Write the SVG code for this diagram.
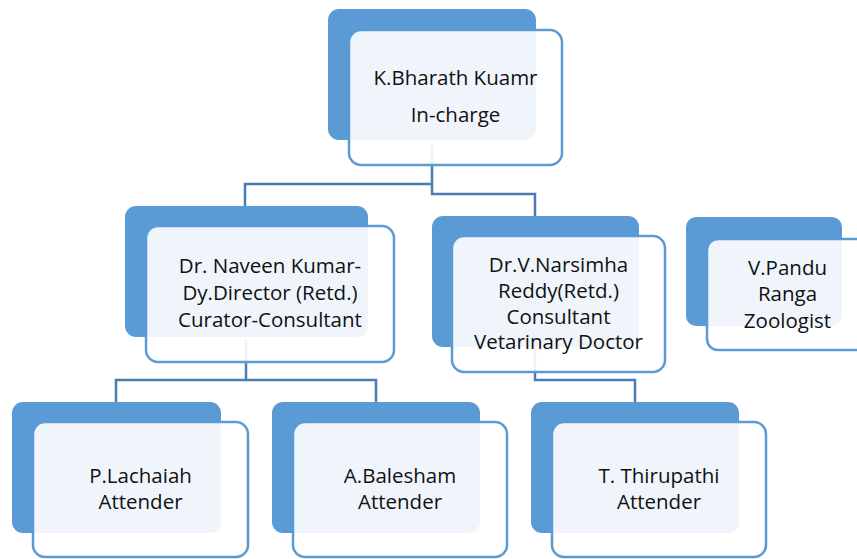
<svg xmlns="http://www.w3.org/2000/svg" width="857" height="559" viewBox="0 0 857 559">
<style>
.back{fill:#5B9BD5;}
.front{fill:#FFFFFF;fill-opacity:0.9;stroke:#5B9BD5;stroke-width:2.5;}
.conn{fill:none;stroke:#4A7DB4;stroke-width:2.5;}
.t{font-family:"Open Sans","Liberation Sans",sans-serif;font-size:20.5px;fill:#111111;text-anchor:middle;}
</style>
<rect width="857" height="559" fill="#FFFFFF"/>
<g id="connectors">
<path class="conn" d="M432,145 V184 H245 V208"/>
<path class="conn" d="M432,184 V194 H535 V218"/>
<path class="conn" d="M246,340 V380 H116 V404"/>
<path class="conn" d="M246,380 H376 V404"/>
<path class="conn" d="M535,350 V380 H635 V404"/>
</g>
<g id="node-bharath">
<rect class="back" x="328" y="9" width="208" height="131" rx="11"/>
<rect class="front" x="349" y="30" width="213" height="135" rx="12"/>
<text class="t" x="455.5" y="85">K.Bharath Kuamr</text>
<text class="t" x="455.5" y="122">In-charge</text>
</g>
<g id="node-naveen">
<rect class="back" x="125" y="206" width="243" height="131" rx="11"/>
<rect class="front" x="146" y="226" width="248" height="136" rx="12"/>
<text class="t" x="270" y="273">Dr. Naveen Kumar-</text>
<text class="t" x="270" y="300">Dy.Director (Retd.)</text>
<text class="t" x="270" y="327">Curator-Consultant</text>
</g>
<g id="node-narsimha">
<rect class="back" x="432" y="216" width="207" height="131" rx="11"/>
<rect class="front" x="452" y="236" width="213" height="136" rx="12"/>
<text class="t" x="558.5" y="271.5">Dr.V.Narsimha</text>
<text class="t" x="558.5" y="297.5">Reddy(Retd.)</text>
<text class="t" x="558.5" y="323.5">Consultant</text>
<text class="t" x="558.5" y="349">Vetarinary Doctor</text>
</g>
<g id="node-pandu">
<rect class="back" x="686" y="217" width="156" height="109" rx="10"/>
<rect class="front" x="707" y="239" width="161" height="111" rx="11"/>
<text class="t" x="787.5" y="275">V.Pandu</text>
<text class="t" x="787.5" y="301">Ranga</text>
<text class="t" x="787.5" y="328">Zoologist</text>
</g>
<g id="node-lachaiah">
<rect class="back" x="12" y="402" width="209" height="131" rx="11"/>
<rect class="front" x="33" y="422" width="215" height="135" rx="12"/>
<text class="t" x="140.5" y="483">P.Lachaiah</text>
<text class="t" x="140.5" y="509">Attender</text>
</g>
<g id="node-balesham">
<rect class="back" x="272" y="402" width="208" height="131" rx="11"/>
<rect class="front" x="293" y="422" width="214" height="135" rx="12"/>
<text class="t" x="400" y="483">A.Balesham</text>
<text class="t" x="400" y="509">Attender</text>
</g>
<g id="node-thirupathi">
<rect class="back" x="531" y="402" width="208" height="131" rx="11"/>
<rect class="front" x="552" y="422" width="214" height="135" rx="12"/>
<text class="t" x="659" y="483">T. Thirupathi</text>
<text class="t" x="659" y="509">Attender</text>
</g>
</svg>
